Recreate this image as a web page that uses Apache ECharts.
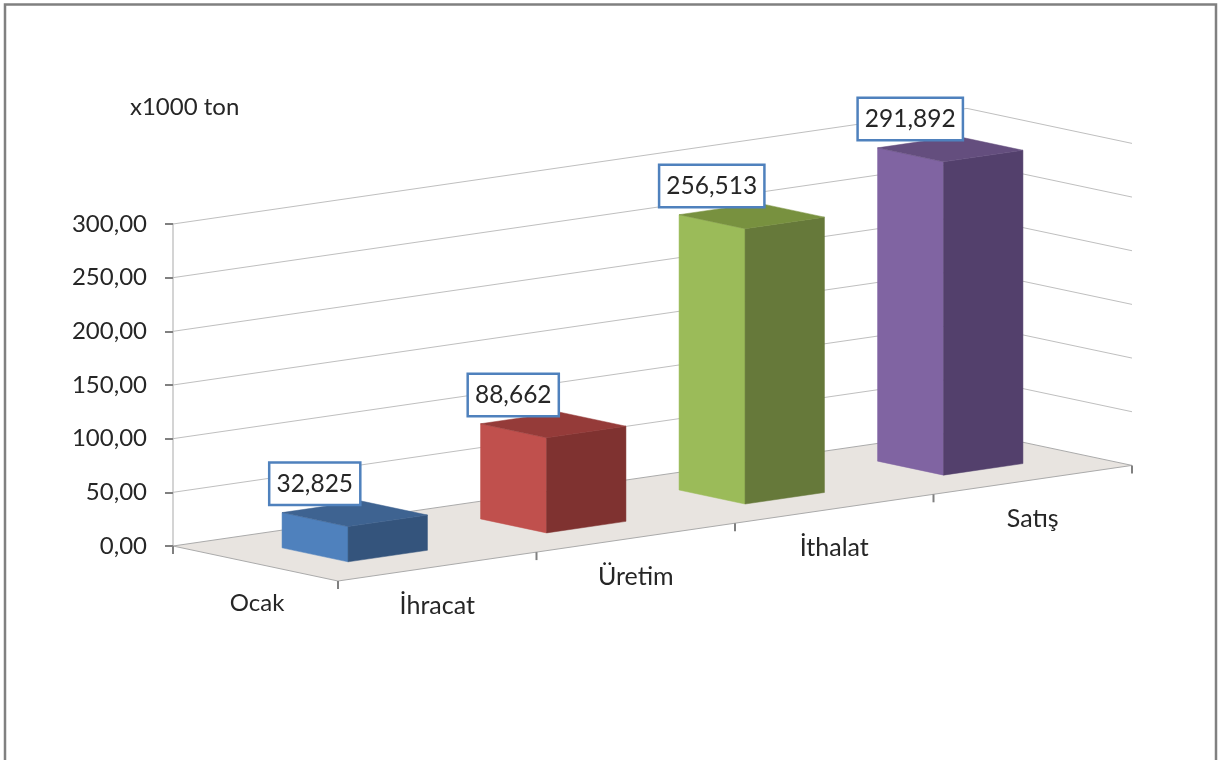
<!DOCTYPE html>
<html>
<head>
<meta charset="utf-8">
<style>html,body{margin:0;padding:0;background:#fff}#c{width:1219px;height:760px}</style>
<script src="https://cdn.jsdelivr.net/npm/echarts@6/dist/echarts.min.js"></script>
</head>
<body>
<div id="c"></div>
<script>
var categories = ['İhracat', 'Üretim', 'İthalat', 'Satış'];
var values = [32.825, 88.662, 256.513, 291.892];
var valueLabels = ['32,825', '88,662', '256,513', '291,892'];
var depthCategory = 'Ocak';
var unitLabel = 'x1000 ton';
var yTicks = [0, 50, 100, 150, 200, 250, 300];

var frontColors = ['#4F81BD', '#C0504D', '#9BBB59', '#8064A2'];
var sideColors = ['#34547C', '#7F3230', '#66793A', '#53406C'];
var topColors = ['#3E6391', '#953B39', '#78913F', '#644E7E'];

var FONT = 'Lato';
var TEXT = '#262626';
var DEPTH = [165, 35];   // screen vector of the floor's depth
var SLOPE = -28.9;       // screen rise per category along the floor

function project(api, c, d, v) {
  var p = api.coord([c, v]);
  return [p[0] + d * DEPTH[0], p[1] + c * SLOPE + d * DEPTH[1]];
}
function poly(points, fill, z) {
  return {type: 'polygon', z2: z || 0, shape: {points: points}, style: {fill: fill, stroke: fill, lineWidth: 0.5}};
}
function seg(a, b, color, w) {
  return {type: 'line', shape: {x1: a[0], y1: a[1], x2: b[0], y2: b[1]}, style: {stroke: color, lineWidth: w, fill: null}};
}

var option = {
  animation: false,
  backgroundColor: '#ffffff',
  title: {
    text: unitLabel, left: 125, top: 90,
    textStyle: {fontFamily: FONT, fontSize: 24, fontWeight: 'normal', color: TEXT}
  },
  graphic: [{
    type: 'polyline',
    shape: {points: [[5, 760], [5, 4.5], [1216, 4.5], [1216, 760]]},
    style: {stroke: '#808080', lineWidth: 2.5, fill: null}
  }],
  grid: {left: 173, top: 224, width: 794, height: 322},
  xAxis: {type: 'value', min: 0, max: 4, show: false},
  yAxis: {
    type: 'value', min: 0, max: 300, interval: 50,
    axisLine: {show: true, lineStyle: {color: '#D4D4D4', width: 2}},
    axisTick: {show: true, length: 8, lineStyle: {color: '#808080', width: 2}},
    axisLabel: {
      margin: 26, fontFamily: FONT, fontSize: 24, color: TEXT, padding: [2, 0, 0, 0],
      formatter: function (v) { return v.toFixed(2).replace('.', ','); }
    },
    splitLine: {show: false}
  },
  series: [
    { // floor
      type: 'custom', silent: true, z: 1,
      data: [[0, 0]],
      renderItem: function (params, api) {
        var a = project(api, 0, 0, 0), b = project(api, 4, 0, 0), c = project(api, 4, 1, 0), d = project(api, 0, 1, 0);
        var children = [{
          type: 'polygon', shape: {points: [a, b, c, d]},
          style: {fill: '#E8E4E0', stroke: '#ABABAB', lineWidth: 1}
        }];
        for (var i = 0; i <= 4; i++) {
          var t = project(api, i, 1, 0);
          children.push(seg(t, [t[0], t[1] + 8], '#808080', 2));
        }
        children.push(seg(a, [a[0], a[1] + 8], '#808080', 2));
        return {type: 'group', children: children};
      }
    },
    { // wall gridlines
      type: 'custom', silent: true, z: 2,
      data: yTicks.map(function (v) { return [0, v]; }),
      renderItem: function (params, api) {
        var v = api.value(1);
        var a = project(api, 0, 0, v), b = project(api, 4, 0, v), c = project(api, 4, 1, v);
        var children = [seg(b, c, '#BFBFBF', 1)];
        if (v > 0) children.unshift(seg(a, b, '#BFBFBF', 1));
        else children = [];
        return {type: 'group', children: children};
      }
    },
    { // bars
      type: 'custom', silent: true, z: 3,
      data: values.map(function (v, i) { return [i, v]; }),
      renderItem: function (params, api) {
        var i = api.value(0), v = api.value(1);
        var c0 = i + 0.3, c1 = i + 0.7, d0 = 0.3, d1 = 0.7;
        var lb = project(api, c0, d0, 0), fb = project(api, c0, d1, 0), rb = project(api, c1, d1, 0);
        var lt = project(api, c0, d0, v), ft = project(api, c0, d1, v), rt = project(api, c1, d1, v), bt = project(api, c1, d0, v);
        return {type: 'group', children: [
          poly([lb, fb, ft, lt], frontColors[i]),
          poly([fb, rb, rt, ft], sideColors[i]),
          poly([lt, ft, rt, bt], topColors[i])
        ]};
      }
    },
    { // category labels along the front edge
      type: 'custom', silent: true, z: 4,
      data: categories.map(function (n, i) { return [i, 0]; }),
      renderItem: function (params, api) {
        var i = api.value(0);
        var p = project(api, i + 0.5, 1, 0);
        return {type: 'text', style: {
          text: categories[i], x: p[0], y: p[1] + 39, align: 'center', verticalAlign: 'middle',
          fontFamily: FONT, fontSize: 25, fill: TEXT
        }};
      }
    },
    { // depth-axis label
      type: 'custom', silent: true, z: 4,
      data: [[0, 0]],
      renderItem: function (params, api) {
        var p = project(api, 0, 0.5, 0);
        return {type: 'text', style: {
          text: depthCategory, x: p[0] + 1.5, y: p[1] + 40, align: 'center', verticalAlign: 'middle',
          fontFamily: FONT, fontSize: 24, fill: TEXT
        }};
      }
    },
    { // value labels
      type: 'custom', silent: true, z: 5,
      data: values.map(function (v, i) { return [i, v]; }),
      renderItem: function (params, api) {
        var i = api.value(0), v = api.value(1);
        var p = project(api, i + 0.5, 0.5, v);
        return {type: 'text', style: {
          text: valueLabels[i], x: p[0] - 40, y: p[1] - 30, align: 'center', verticalAlign: 'middle',
          fontFamily: FONT, fontSize: 24.5, fill: TEXT,
          backgroundColor: '#ffffff', borderColor: '#4F81BD', borderWidth: 2.5,
          padding: [8, 6, 7, 6]
        }};
      }
    }
  ]
};
var chart = echarts.init(document.getElementById('c'), null, {renderer: 'canvas', width: 1219, height: 760});
chart.setOption(option);
</script>
</body>
</html>
